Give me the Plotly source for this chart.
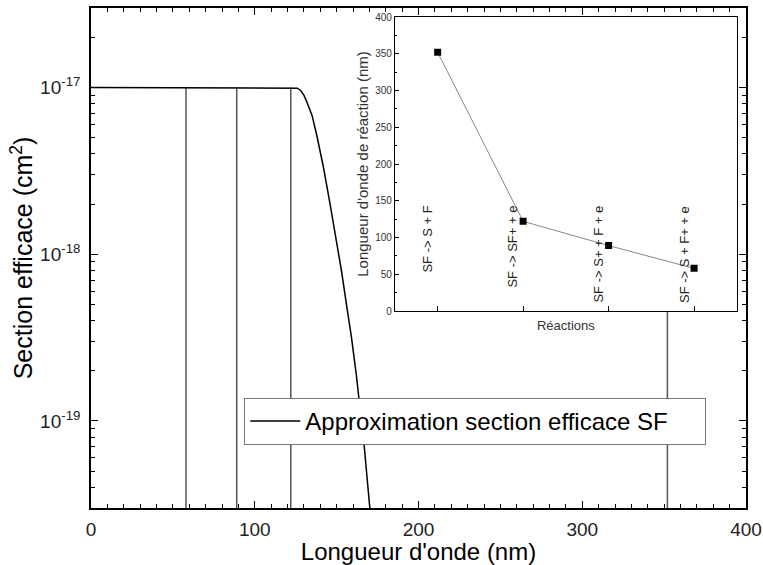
import plotly.graph_objects as go

# Main curve: approximated photo-absorption cross section of SF
wavelength_nm = [0, 122, 124, 126, 128, 130, 132, 135, 138, 142, 146, 150, 153, 156, 159, 162, 164, 167, 170, 172]
cross_section_cm2 = [1e-17, 1e-17, 1e-17, 9.9e-18, 9.6e-18, 9.0e-18, 8.1e-18, 6.8e-18, 5.1e-18, 3.3e-18,
                     2.0e-18, 1.2e-18, 7.9e-19, 5.0e-19, 3.2e-19, 1.9e-19, 1.26e-19, 6.8e-20, 3.2e-20, 2.2e-20]

# Inset: reactions and their threshold wavelengths
reactions = ["SF -> S + F", "SF -> SF+ + e", "SF -> S+ + F + e", "SF -> S + F+ + e"]
reaction_index = [1, 2, 3, 4]
reaction_wavelength_nm = [352, 122, 89, 58]

y_tick_vals = [1e-19, 1e-18, 1e-17]
y_tick_text = ["10<sup>-19</sup>", "10<sup>-18</sup>", "10<sup>-17</sup>"]
x_tick_vals = [0, 100, 200, 300, 400]

FONT = "Liberation Sans, Arial, sans-serif"

fig = go.Figure()

# vertical lines at reaction wavelengths
for wl in reaction_wavelength_nm:
    fig.add_trace(go.Scatter(x=[wl, wl], y=[2e-20, 1e-17], mode="lines",
                             line=dict(color="#555555", width=1.5),
                             showlegend=False, hoverinfo="skip", xaxis="x", yaxis="y"))

fig.add_trace(go.Scatter(x=wavelength_nm, y=cross_section_cm2, mode="lines",
                         line=dict(color="black", width=1.5),
                         name="Approximation section efficace SF", xaxis="x", yaxis="y"))

# inset
fig.add_trace(go.Scatter(x=reaction_index, y=reaction_wavelength_nm, mode="lines+markers",
                         line=dict(color="#888888", width=1),
                         marker=dict(symbol="square", size=7, color="black"),
                         showlegend=False, xaxis="x2", yaxis="y2"))

minor_y = [k * 10.0 ** e for e in range(-20, -16) for k in range(2, 10)
           if 3e-20 <= k * 10.0 ** e <= 3e-17]

fig.update_layout(
    width=763, height=565,
    margin=dict(l=91, r=17, t=8, b=57),
    paper_bgcolor="white", plot_bgcolor="white",
    font=dict(family=FONT, color="black"),
    xaxis=dict(domain=[0, 1], range=[0, 400], tickvals=x_tick_vals, automargin=False,
               showline=True, linecolor="black", linewidth=1.5, mirror="allticks",
               ticks="inside", ticklen=7, tickwidth=1, tickcolor="black",
               minor=dict(ticks="inside", ticklen=4, dtick=10, tickcolor="black"),
               showgrid=False, zeroline=False, ticklabelstandoff=3,
               tickfont=dict(size=19, color="#222222"),
               title=dict(text="Longueur d'onde (nm)", font=dict(size=24), standoff=0)),
    yaxis=dict(domain=[0, 1], type="log", range=[-19.5229, -16.5229], automargin=False,
               tickvals=y_tick_vals, ticktext=y_tick_text,
               showline=True, linecolor="black", linewidth=1.5, mirror="allticks",
               ticks="inside", ticklen=7, tickwidth=1, tickcolor="black",
               minor=dict(ticks="inside", ticklen=4, tickvals=minor_y, tickcolor="black"),
               showgrid=False, zeroline=False, ticklabelstandoff=5,
               tickfont=dict(size=19, color="#222222"),
               title=dict(text="Section efficace (cm<sup>2</sup>)", font=dict(size=25), standoff=0)),
    xaxis2=dict(domain=[0.464, 0.986], range=[0.5, 4.5], anchor="y2", automargin=False,
                tickvals=reaction_index, showticklabels=False,
                showline=True, linecolor="black", linewidth=1, mirror=True,
                ticks="inside", ticklen=5, tickcolor="black",
                showgrid=False, zeroline=False,
                title=dict(text="Réactions", font=dict(size=13, color="#333333"), standoff=9)),
    yaxis2=dict(domain=[0.394, 0.982], range=[0, 400], anchor="x2", automargin=False,
                dtick=50, showline=True, linecolor="black", linewidth=1, mirror=True,
                ticks="inside", ticklen=4, tickcolor="black",
                minor=dict(ticks="inside", ticklen=2, dtick=25, tickcolor="black"),
                showgrid=False, zeroline=False,
                tickfont=dict(size=10, color="#333333"),
                title=dict(text="Longueur d'onde de réaction (nm)", font=dict(size=15, color="#333333"),
                           standoff=2)),
    legend=dict(x=0.234, y=0.22, xanchor="left", yanchor="top",
                bgcolor="white", bordercolor="#777777", borderwidth=1,
                font=dict(size=24, color="black"), itemwidth=50,
                orientation="h", entrywidth=395),
)

for idx, label in zip(reaction_index, reactions):
    fig.add_annotation(x=idx - 0.12, y=146, xref="x2", yref="y2", text=label,
                       textangle=-90, showarrow=False, xanchor="center", yanchor="top",
                       font=dict(size=13, color="#222222", family=FONT))

fig.write_html("out.html")
